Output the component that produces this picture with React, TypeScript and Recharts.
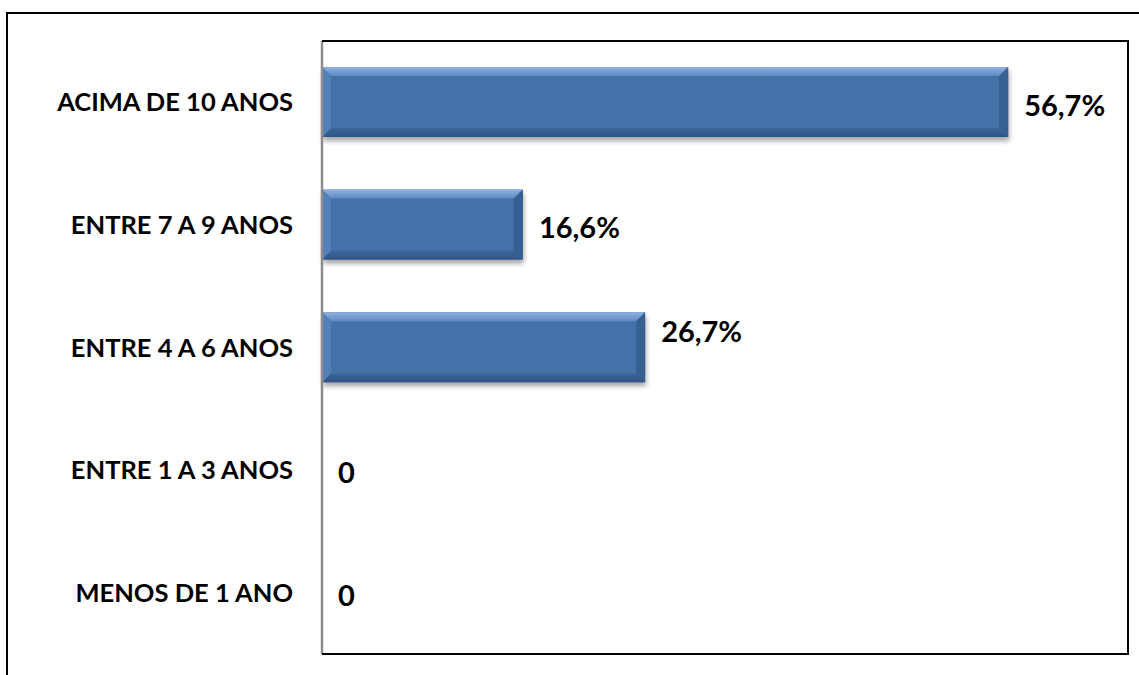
import React from 'react';
import { BarChart, Bar, XAxis, YAxis, LabelList } from 'recharts';

const categories = ['ACIMA DE 10 ANOS', 'ENTRE 7 A 9 ANOS', 'ENTRE 4 A 6 ANOS', 'ENTRE 1 A 3 ANOS', 'MENOS DE 1 ANO'];
const values = [56.7, 16.6, 26.7, 0, 0];
const xDomain = [0, 66.6];

const data = categories.map((name, i) => ({ name, value: values[i] }));

const FONT = 'Lato, "Open Sans", sans-serif';

const BevelBar = (props: any) => {
  const { x, y, width: w, height: h, index } = props;
  if (!w || w <= 0) return null;
  const b = Math.min(9, w / 2, h / 2);
  const fid = `shadow-${index}`;
  const p = (pts: number[][]) => pts.map((q) => q.join(',')).join(' ');
  return (
    <g>
      <defs>
        <filter id={fid} x="-10%" y="-30%" width="120%" height="160%">
          <feGaussianBlur stdDeviation="2.5" />
        </filter>
        <linearGradient id={`top-${index}`} x1="0" y1="0" x2="0" y2="1">
          <stop offset="0%" stopColor="#8FB2E0" />
          <stop offset="100%" stopColor="#5F8AC2" />
        </linearGradient>
        <linearGradient id={`bot-${index}`} x1="0" y1="0" x2="0" y2="1">
          <stop offset="0%" stopColor="#3D679A" />
          <stop offset="100%" stopColor="#2E5483" />
        </linearGradient>
      </defs>
      <rect x={x + 1} y={y + 4} width={w} height={h} fill="#000" opacity={0.35} filter={`url(#${fid})`} />
      <rect x={x} y={y} width={w} height={h} fill="#4472A8" />
      <polygon points={p([[x, y], [x + w, y], [x + w - b, y + b], [x + b, y + b]])} fill={`url(#top-${index})`} />
      <polygon points={p([[x, y + h], [x + w, y + h], [x + w - b, y + h - b], [x + b, y + h - b]])} fill={`url(#bot-${index})`} />
      <polygon points={p([[x, y], [x + b, y + b], [x + b, y + h - b], [x, y + h]])} fill="#5380B8" />
      <polygon points={p([[x + w, y], [x + w - b, y + b], [x + w - b, y + h - b], [x + w, y + h]])} fill="#365F92" />
    </g>
  );
};

const fmt = (v: number) => (v === 0 ? '0' : v.toFixed(1).replace('.', ',') + '%');

const ValueLabel = (props: any) => {
  const { x, y, width, height, value, index } = props;
  const dy = index === 2 ? -17 : 2;
  return (
    <text
      x={x + Math.max(width, 0) + 16}
      y={y + height / 2 + dy}
      dominantBaseline="central"
      textAnchor="start"
      fontFamily={FONT}
      fontWeight="bold"
      fontSize={29}
      fill="#000"
    >
      {fmt(value)}
    </text>
  );
};

export default function App() {
  return (
    <div style={{ position: 'absolute', left: 0, top: 0, width: 1139, height: 675, overflow: 'hidden', background: '#fff' }}>
      <div
        style={{
          position: 'absolute',
          left: 6,
          top: 12,
          width: 1160,
          height: 700,
          border: '2px solid #000',
          boxSizing: 'border-box',
        }}
      />
      <div style={{ position: 'absolute', left: 0, top: 0 }}>
        <BarChart
          width={1139}
          height={675}
          data={data}
          layout="vertical"
          margin={{ top: 41, right: 11, bottom: 21, left: 0 }}
          barSize={70}
        >
          <XAxis type="number" domain={xDomain} hide />
          <YAxis
            type="category"
            dataKey="name"
            width={322}
            tickLine={false}
            tickSize={0}
            tickMargin={29}
            axisLine={{ stroke: '#8C8C8C', strokeWidth: 2.5 }}
            tick={{ fontFamily: FONT, fontWeight: 'bold', fontSize: 25.5, fill: '#000' }}
            interval={0}
          />
          <Bar dataKey="value" shape={<BevelBar />} isAnimationActive={false}>
            <LabelList dataKey="value" content={<ValueLabel />} />
          </Bar>
        </BarChart>
      </div>
      <div
        style={{
          position: 'absolute',
          left: 322,
          top: 40,
          width: 807,
          height: 615,
          borderTop: '2px solid #000',
          borderRight: '2px solid #000',
          borderBottom: '2px solid #000',
          boxSizing: 'border-box',
          pointerEvents: 'none',
        }}
      />
    </div>
  );
}
